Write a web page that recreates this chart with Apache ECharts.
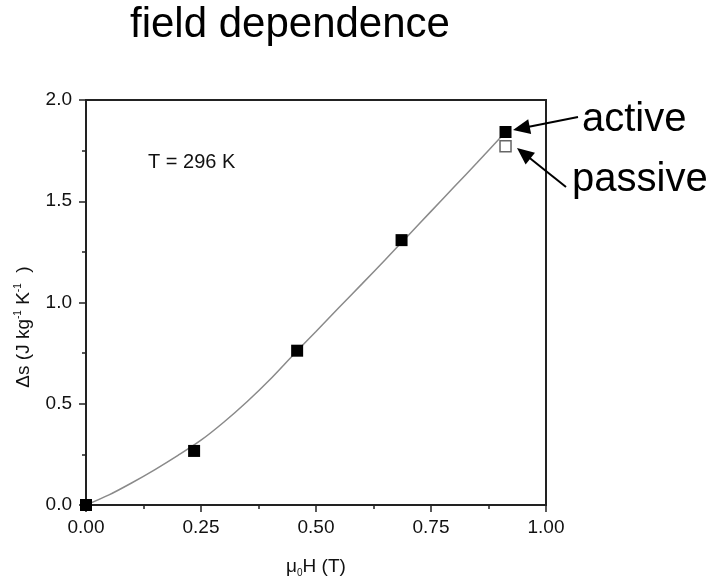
<!DOCTYPE html>
<html><head><meta charset="utf-8">
<script src="https://cdn.jsdelivr.net/npm/echarts@6/dist/echarts.min.js"></script>
<style>html,body{margin:0;padding:0;background:#fff}#c{width:717px;height:584px}</style>
</head><body><div id="c"></div>
<script>
// data
const activeH = [0.0, 0.235, 0.459, 0.686, 0.912];
const activeS = [0.0, 0.267, 0.762, 1.308, 1.842];
const passiveH = [0.912];
const passiveS = [1.772];
const fitH = [0, 0.05, 0.1, 0.15, 0.2, 0.25, 0.3, 0.35, 0.4, 0.45, 0.5, 0.55, 0.6, 0.65, 0.7, 0.75, 0.8, 0.85, 0.912];
const fitS = [0, 0.05, 0.11, 0.175, 0.245, 0.32, 0.41, 0.51, 0.62, 0.74, 0.857, 0.975, 1.092, 1.21, 1.33, 1.45, 1.57, 1.69, 1.842];
const xTicks = ['0.00', '0.25', '0.50', '0.75', '1.00'];
const yTicks = ['0.0', '0.5', '1.0', '1.5', '2.0'];

const zip = (a, b) => a.map((v, i) => [v, b[i]]);
const font = 'Liberation Sans, Arial, sans-serif';

function arrow(x1, y1, x2, y2) {
  const dx = x2 - x1, dy = y2 - y1, L = Math.hypot(dx, dy);
  const ux = dx / L, uy = dy / L, hl = 17, hw = 7.5;
  const bx = x2 - ux * hl, by = y2 - uy * hl;
  return [
    {type: 'line', shape: {x1: x1, y1: y1, x2: bx + ux * 2, y2: by + uy * 2}, style: {stroke: '#000', lineWidth: 2}},
    {type: 'polygon', shape: {points: [[x2, y2], [bx - uy * hw, by + ux * hw], [bx + uy * hw, by - ux * hw]]}, style: {fill: '#000'}}
  ];
}

const chart = echarts.init(document.getElementById('c'), null, {renderer: 'canvas'});
chart.setOption({
  backgroundColor: '#ffffff',
  animation: false,
  grid: {left: 86, right: 171, top: 100, bottom: 79, show: true, borderColor: '#222', borderWidth: 2, backgroundColor: 'transparent'},
  xAxis: {
    type: 'value', min: 0, max: 1, interval: 0.25,
    axisLine: {show: true, onZero: false, lineStyle: {color: '#222', width: 2}},
    axisTick: {show: true, length: 7, lineStyle: {color: '#222', width: 1.5}},
    minorTick: {show: true, splitNumber: 2, length: 4, lineStyle: {color: '#222', width: 1.5}},
    splitLine: {show: false},
    axisLabel: {margin: 13, fontFamily: font, fontSize: 19, color: '#111',
      formatter: v => xTicks[Math.round(v / 0.25)]},
    name: '{n|μ}{s|0}{n|H (T)}', nameLocation: 'middle', nameGap: 51,
    nameTextStyle: {rich: {
      n: {fontFamily: font, fontSize: 19, color: '#111'},
      s: {fontFamily: font, fontSize: 10, color: '#111', padding: [12, 0, 0, 0]}
    }}
  },
  yAxis: {
    type: 'value', min: 0, max: 2, interval: 0.5,
    axisLine: {show: true, onZero: false, lineStyle: {color: '#222', width: 2}},
    axisTick: {show: true, length: 7, lineStyle: {color: '#222', width: 1.5}},
    minorTick: {show: true, splitNumber: 2, length: 4, lineStyle: {color: '#222', width: 1.5}},
    splitLine: {show: false},
    axisLabel: {margin: 14, fontFamily: font, fontSize: 19, color: '#111',
      formatter: v => yTicks[Math.round(v / 0.5)]}
  },
  series: [
    {type: 'line', data: zip(fitH, fitS), smooth: 0.3, symbol: 'none',
      lineStyle: {color: '#8a8a8a', width: 1.5}, z: 1, silent: true},
    {type: 'scatter', data: zip(activeH, activeS), symbol: 'rect', symbolSize: 12,
      itemStyle: {color: '#000', opacity: 1}, z: 3, silent: true},
    {type: 'scatter', data: zip(passiveH, passiveS), symbol: 'rect', symbolSize: 11,
      itemStyle: {color: '#fff', borderColor: '#666', borderWidth: 1.5, opacity: 1}, z: 3, silent: true}
  ],
  graphic: [
    {type: 'text', x: 130, y: 25, style: {text: 'field dependence', fontFamily: font, fontSize: 42, fill: '#000', verticalAlign: 'middle'}},
    {type: 'text', x: 148, y: 162, style: {text: 'T = 296 K', fontFamily: font, fontSize: 20, fill: '#111', verticalAlign: 'middle'}},
    {type: 'text', x: 582, y: 120, style: {text: 'active', fontFamily: font, fontSize: 40, fill: '#000', verticalAlign: 'middle'}},
    {type: 'text', x: 572, y: 180, style: {text: 'passive', fontFamily: font, fontSize: 40, fill: '#000', verticalAlign: 'middle'}},
    {type: 'text', x: 24, y: 327, rotation: Math.PI / 2,
      style: {text: '{n|Δs (J kg}{s|-1}{n| K}{s|-1}{n|  )}', align: 'center', verticalAlign: 'middle',
        rich: {
          n: {fontFamily: font, fontSize: 19, fill: '#111'},
          s: {fontFamily: font, fontSize: 10, fill: '#111', padding: [0, 0, 12, 0]}
        }}},
    ...arrow(578, 117, 513, 130),
    ...arrow(566, 187, 517, 148)
  ]
});
</script></body></html>
